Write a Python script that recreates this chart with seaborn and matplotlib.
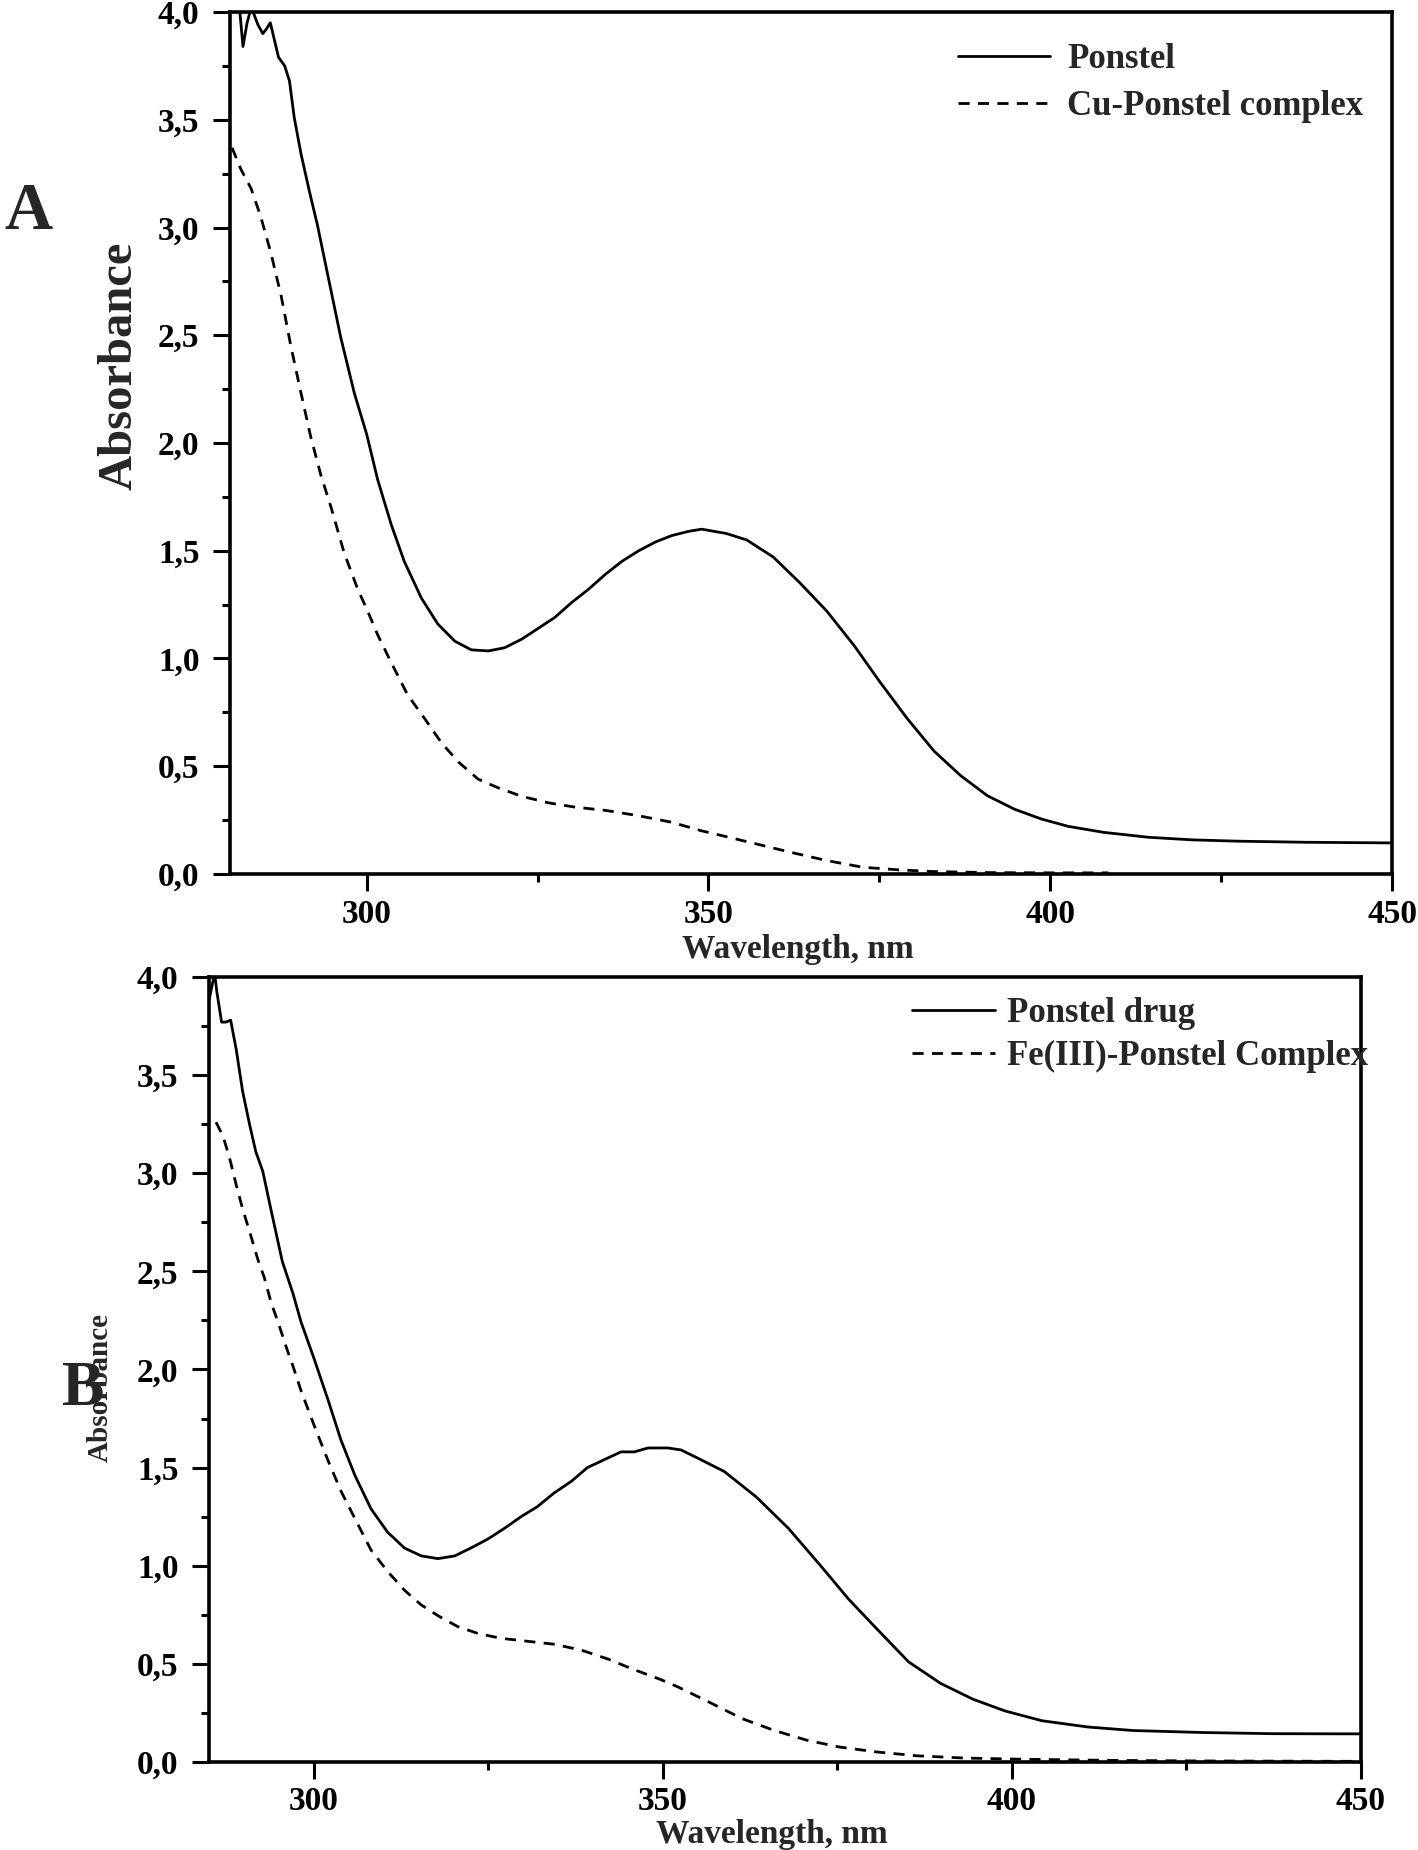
import pandas as pd
import seaborn as sns
import matplotlib.pyplot as plt
from matplotlib.ticker import MultipleLocator, FuncFormatter

# ---- panel A : Ponstel vs Cu-Ponstel complex ----
wl_ponstel_a = [281.3, 281.9, 282.5, 283.1, 283.5, 284.1, 284.8, 285.3, 285.9, 286.5,
                287.1, 288.0, 288.7, 289.4, 290.4, 291.6, 292.8, 294.3, 296.2, 298.2,
                300.0, 301.6, 303.6, 305.5, 308.0, 310.4, 312.9, 315.3, 317.8, 320.2,
                322.7, 325.1, 327.5, 330.0, 332.4, 334.9, 337.3, 339.8, 342.2, 344.6,
                347.1, 349.0, 352.6, 355.6, 359.5, 363.4, 367.3, 371.3, 375.1, 379.1,
                383.0, 386.9, 390.8, 394.8, 398.7, 402.6, 407.8, 414.4, 420.9, 427.5,
                437.3, 450.0]
abs_ponstel_a = [4.05, 3.84, 3.95, 4.02, 3.99, 3.94, 3.90, 3.92, 3.95, 3.87,
                 3.79, 3.75, 3.68, 3.51, 3.34, 3.17, 3.01, 2.78, 2.49, 2.23,
                 2.04, 1.83, 1.62, 1.45, 1.28, 1.16, 1.08, 1.04, 1.035, 1.05,
                 1.09, 1.14, 1.19, 1.26, 1.32, 1.39, 1.45, 1.50, 1.54, 1.57,
                 1.59, 1.60, 1.58, 1.55, 1.47, 1.35, 1.22, 1.06, 0.89, 0.72,
                 0.57, 0.456, 0.363, 0.30, 0.255, 0.221, 0.193, 0.17, 0.158, 0.152,
                 0.147, 0.144]

wl_cu = [280.3, 281.6, 283.1, 284.5, 286.0, 287.5, 288.9, 290.4, 291.8, 293.3,
         294.8, 296.7, 298.7, 300.0, 301.6, 303.6, 306.0, 308.5, 310.9, 313.4,
         316.3, 319.2, 322.7, 326.6, 330.5, 334.9, 339.8, 344.6, 349.0, 353.0,
         356.9, 362.1, 367.3, 372.6, 377.8, 383.0, 391.5, 401.3, 408.5]
abs_cu = [3.37, 3.27, 3.18, 3.05, 2.88, 2.68, 2.45, 2.23, 2.03, 1.85,
          1.70, 1.49, 1.32, 1.23, 1.11, 0.98, 0.83, 0.72, 0.61, 0.52,
          0.44, 0.40, 0.36, 0.33, 0.31, 0.295, 0.27, 0.24, 0.20, 0.17,
          0.14, 0.10, 0.062, 0.031, 0.019, 0.011, 0.006, 0.005, 0.005]

# ---- panel B : Ponstel drug vs Fe(III)-Ponstel complex ----
wl_ponstel_b = [285.0, 285.8, 286.1, 286.8, 287.4, 288.1, 288.9, 289.8, 290.8, 291.7,
                292.7, 293.9, 295.5, 297.0, 298.2, 300.0, 302.0, 303.9, 305.9, 308.2,
                310.6, 313.0, 315.4, 317.8, 320.2, 322.5, 324.9, 327.3, 329.7, 332.0,
                334.4, 336.9, 339.2, 341.6, 344.0, 345.9, 347.9, 350.7, 352.6, 354.9,
                358.8, 363.4, 368.0, 372.6, 376.6, 380.6, 385.2, 389.8, 394.4, 399.0,
                404.3, 410.9, 417.4, 427.3, 437.2, 450.0]
abs_ponstel_b = [3.88, 4.02, 3.93, 3.77, 3.77, 3.78, 3.63, 3.42, 3.25, 3.11,
                 3.01, 2.81, 2.55, 2.39, 2.24, 2.06, 1.85, 1.64, 1.46, 1.29,
                 1.17, 1.09, 1.05, 1.036, 1.05, 1.09, 1.135, 1.19, 1.25, 1.30,
                 1.37, 1.43, 1.50, 1.54, 1.58, 1.58, 1.60, 1.60, 1.59, 1.55,
                 1.48, 1.35, 1.19, 1.00, 0.83, 0.68, 0.51, 0.40, 0.32, 0.26,
                 0.21, 0.178, 0.16, 0.15, 0.144, 0.143]

wl_fe = [286.0, 287.0, 288.0, 288.9, 289.8, 291.0, 292.0, 292.9, 293.9, 294.9,
         296.1, 297.0, 298.2, 300.0, 302.0, 303.9, 305.9, 308.2, 310.6, 313.0,
         315.4, 317.8, 320.6, 323.5, 326.8, 330.6, 334.4, 338.3, 342.1, 345.9,
         349.7, 352.3, 356.9, 361.4, 366.0, 370.7, 375.3, 380.6, 386.5, 393.1,
         401.0, 414.1, 427.3, 450.0]
abs_fe = [3.26, 3.19, 3.07, 2.94, 2.82, 2.68, 2.56, 2.47, 2.34, 2.24,
          2.11, 2.02, 1.89, 1.72, 1.54, 1.38, 1.24, 1.08, 0.97, 0.875,
          0.80, 0.745, 0.69, 0.655, 0.63, 0.615, 0.60, 0.57, 0.525, 0.47,
          0.42, 0.38, 0.30, 0.22, 0.16, 0.11, 0.076, 0.051, 0.031, 0.02,
          0.014, 0.008, 0.005, 0.003]

sns.set_style('ticks')
plt.rcParams['font.family'] = ['Liberation Serif', 'DejaVu Serif']
plt.rcParams['font.weight'] = 'bold'

fig = plt.figure(figsize=(14.18, 18.5), dpi=100)
ax_a = fig.add_axes([0.1622, 0.5276, 0.8195, 0.4659])
ax_b = fig.add_axes([0.1474, 0.0476, 0.8124, 0.4243])

comma = FuncFormatter(lambda v, pos: f'{v:.1f}'.replace('.', ','))
plain = FuncFormatter(lambda v, pos: f'{v:.0f}')
dash = (0, (4, 3))


def style_axis(ax, xmin, xpad):
    ax.set_xlim(xmin, 450)
    ax.set_ylim(0, 4)
    ax.xaxis.set_major_locator(MultipleLocator(50))
    ax.xaxis.set_minor_locator(MultipleLocator(25))
    ax.yaxis.set_major_locator(MultipleLocator(0.5))
    ax.yaxis.set_minor_locator(MultipleLocator(0.25))
    ax.yaxis.set_major_formatter(comma)
    ax.xaxis.set_major_formatter(plain)
    ax.tick_params(which='major', direction='out', length=12, width=2.2,
                   labelsize=24, color='black', labelcolor='black')
    ax.tick_params(which='minor', direction='out', length=5.5, width=2.2, color='black')
    ax.tick_params(axis='x', which='major', pad=xpad)
    ax.tick_params(axis='y', which='major', pad=10)
    ax.tick_params(top=False, right=False, which='both')
    for s in ax.spines.values():
        s.set_linewidth(2.6)
        s.set_color('black')
    ax.set_xlabel('')
    ax.set_ylabel('')


# panel A
df_a1 = pd.DataFrame({'wl': wl_ponstel_a, 'A': abs_ponstel_a})
df_a2 = pd.DataFrame({'wl': wl_cu, 'A': abs_cu})
sns.lineplot(data=df_a1, x='wl', y='A', ax=ax_a, color='black', linewidth=2.0,
             label='Ponstel')
sns.lineplot(data=df_a2, x='wl', y='A', ax=ax_a, color='black', linewidth=2.0,
             linestyle=dash, label='Cu-Ponstel complex')
style_axis(ax_a, 280, 6)
ax_a.legend(loc='upper left', bbox_to_anchor=(0.6265, 0.9635), frameon=False,
            prop={'size': 25, 'weight': 'bold'}, handlelength=2.65,
            handletextpad=0.5, labelspacing=0.38, borderpad=0, borderaxespad=0)

# panel B
df_b1 = pd.DataFrame({'wl': wl_ponstel_b, 'A': abs_ponstel_b})
df_b2 = pd.DataFrame({'wl': wl_fe, 'A': abs_fe})
sns.lineplot(data=df_b1, x='wl', y='A', ax=ax_b, color='black', linewidth=2.0,
             label='Ponstel drug')
sns.lineplot(data=df_b2, x='wl', y='A', ax=ax_b, color='black', linewidth=2.0,
             linestyle=dash, label='Fe(III)-Ponstel Complex')
style_axis(ax_b, 285, 5)
ax_b.legend(loc='upper left', bbox_to_anchor=(0.610, 0.974), frameon=False,
            prop={'size': 25, 'weight': 'bold'}, handlelength=2.4,
            handletextpad=0.35, labelspacing=0.27, borderpad=0, borderaxespad=0)

# axis titles and panel letters
fig.text(0.084, 0.802, 'Absorbance', rotation=90, ha='center', va='center',
         fontsize=35, fontweight='bold')
fig.text(0.563, 0.4865, 'Wavelength, nm', ha='center', va='center',
         fontsize=24, fontweight='bold')
fig.text(0.020, 0.885, 'A', ha='center', va='center', fontsize=48, fontweight='bold')

fig.text(0.071, 0.250, 'Absorbance', rotation=90, ha='center', va='center',
         fontsize=21, fontweight='bold')
fig.text(0.544, 0.0085, 'Wavelength, nm', ha='center', va='center',
         fontsize=24, fontweight='bold')
fig.text(0.059, 0.2486, 'B', ha='center', va='center', fontsize=46, fontweight='bold')

fig.savefig('out.png', dpi=100, facecolor='white')
